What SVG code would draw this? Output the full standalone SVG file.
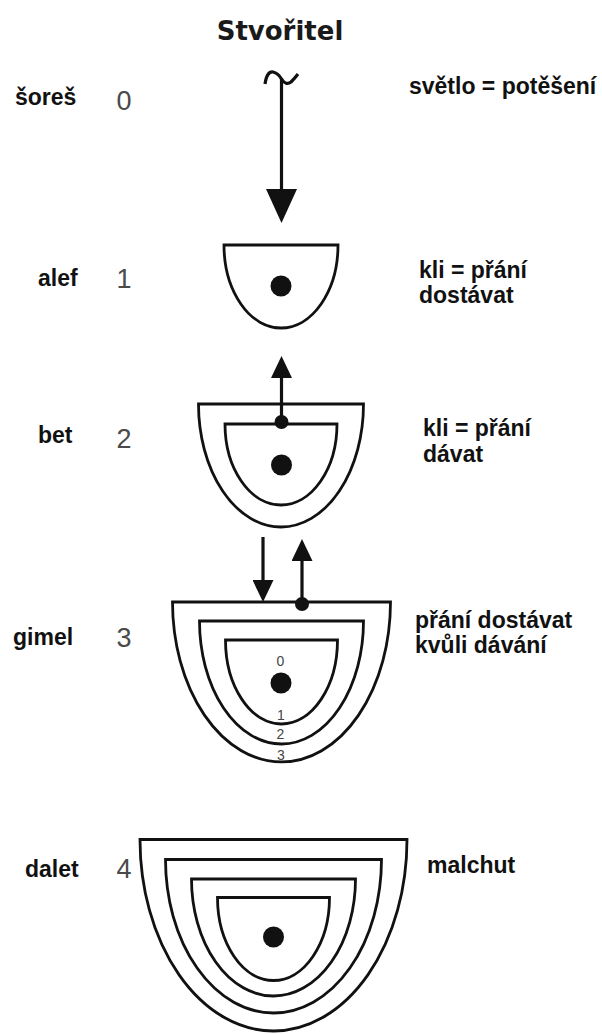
<svg xmlns="http://www.w3.org/2000/svg" width="602" height="1034" viewBox="0 0 602 1034">
<style>
.bg{fill:#ffffff}
.ves{fill:none;stroke:#111;stroke-width:2.8;stroke-linejoin:miter}
.dot{fill:#111}
.con{fill:none;stroke:#111;stroke-width:3.2}
.title{font-family:"DejaVu Sans",Verdana,sans-serif;font-weight:bold;font-size:26px;fill:#1a1a1a;text-anchor:middle}
.lab{font-family:"Liberation Sans",Arial,sans-serif;font-weight:bold;font-size:23px;fill:#111}
.num{font-family:"Liberation Sans",Arial,sans-serif;font-size:27px;fill:#4a4a4a;text-anchor:middle}
.sub{font-family:"Liberation Sans",Arial,sans-serif;font-size:14px;fill:#444;text-anchor:middle}
</style>
<defs>
<marker id="bigHead" viewBox="0 0 34 31" refX="1" refY="15.5" markerWidth="34" markerHeight="31" markerUnits="userSpaceOnUse" orient="auto">
<path d="M0,0 L34,15.5 L0,31 Z" fill="#111"/>
</marker>
<marker id="smallHead" viewBox="0 0 22 21" refX="1" refY="10.5" markerWidth="22" markerHeight="21" markerUnits="userSpaceOnUse" orient="auto">
<path d="M0,0 L22,10.5 L0,21 Z" fill="#111"/>
</marker>
</defs>
<rect class="bg" x="0" y="0" width="602" height="1034"/>

<g id="title">
<text class="title" x="280" y="40">Stvořitel</text>
</g>

<g id="row-shoresh">
<text class="lab" x="15" y="105">šoreš</text>
<text class="num" x="124" y="110">0</text>
<text class="lab" x="409" y="94">světlo = potěšení</text>
</g>

<g id="row-alef">
<text class="lab" x="38" y="286">alef</text>
<text class="num" x="124" y="288">1</text>
<text class="lab" x="419" y="278">kli = přání</text>
<text class="lab" x="419" y="303">dostávat</text>
</g>

<g id="row-bet">
<text class="lab" x="38" y="443">bet</text>
<text class="num" x="124" y="448">2</text>
<text class="lab" x="423" y="436">kli = přání</text>
<text class="lab" x="423" y="462">dávat</text>
</g>

<g id="row-gimel">
<text class="lab" x="13" y="645">gimel</text>
<text class="num" x="124" y="647">3</text>
<text class="lab" x="415" y="628">přání dostávat</text>
<text class="lab" x="415" y="653">kvůli dávání</text>
</g>

<g id="row-dalet">
<text class="lab" x="25" y="877">dalet</text>
<text class="num" x="124" y="878">4</text>
<text class="lab" x="427" y="873">malchut</text>
</g>

<g id="vessel-alef">
<path class="ves" d="M224,245 H338 A57,83 0 0 1 224,245 Z"/>
<circle class="dot" cx="281" cy="286" r="10.5"/>
</g>

<g id="vessel-bet">
<path class="ves" d="M198.5,404 H363.5 A82.5,123 0 0 1 198.5,404 Z"/>
<path class="ves" d="M225,424 H337 A56,81 0 0 1 225,424 Z"/>
<circle class="dot" cx="281.5" cy="465" r="10.5"/>
</g>

<g id="vessel-gimel">
<path class="ves" d="M172.5,602 H390.5 A109,160 0 0 1 172.5,602 Z"/>
<path class="ves" d="M199.5,621 H363.5 A82,123 0 0 1 199.5,621 Z"/>
<path class="ves" d="M225.5,640 H337.5 A56,84 0 0 1 225.5,640 Z"/>
<circle class="dot" cx="281" cy="683" r="10.5"/>
<text class="sub" x="280.5" y="666">0</text>
<text class="sub" x="281" y="720">1</text>
<text class="sub" x="280.5" y="739">2</text>
<text class="sub" x="281" y="760">3</text>
</g>

<g id="vessel-dalet">
<path class="ves" d="M140,839.5 H407 A133.5,191.5 0 0 1 140,839.5 Z"/>
<path class="ves" d="M165.5,859.5 H381.5 A108,153.5 0 0 1 165.5,859.5 Z"/>
<path class="ves" d="M191.5,879 H355.5 A82,117 0 0 1 191.5,879 Z"/>
<path class="ves" d="M217.5,897.5 H329.5 A56,83 0 0 1 217.5,897.5 Z"/>
<circle class="dot" cx="273.5" cy="937" r="10.5"/>
</g>

<g id="connectors">
<path class="con" d="M265,84 Q267,71 273,72 Q278,73 281.5,79 Q286,86 291,82 Q295,78 298,74" stroke-width="3"/>
<line class="con" x1="281.5" y1="78" x2="281.5" y2="190" marker-end="url(#bigHead)"/>
<line class="con" x1="281.5" y1="422" x2="281.5" y2="377" marker-end="url(#smallHead)"/>
<circle class="dot" cx="281.5" cy="422" r="7"/>
<line class="con" x1="263" y1="537" x2="263" y2="581" marker-end="url(#smallHead)"/>
<line class="con" x1="302" y1="604" x2="302" y2="560" marker-end="url(#smallHead)"/>
<circle class="dot" cx="302" cy="604" r="7"/>
</g>
</svg>
